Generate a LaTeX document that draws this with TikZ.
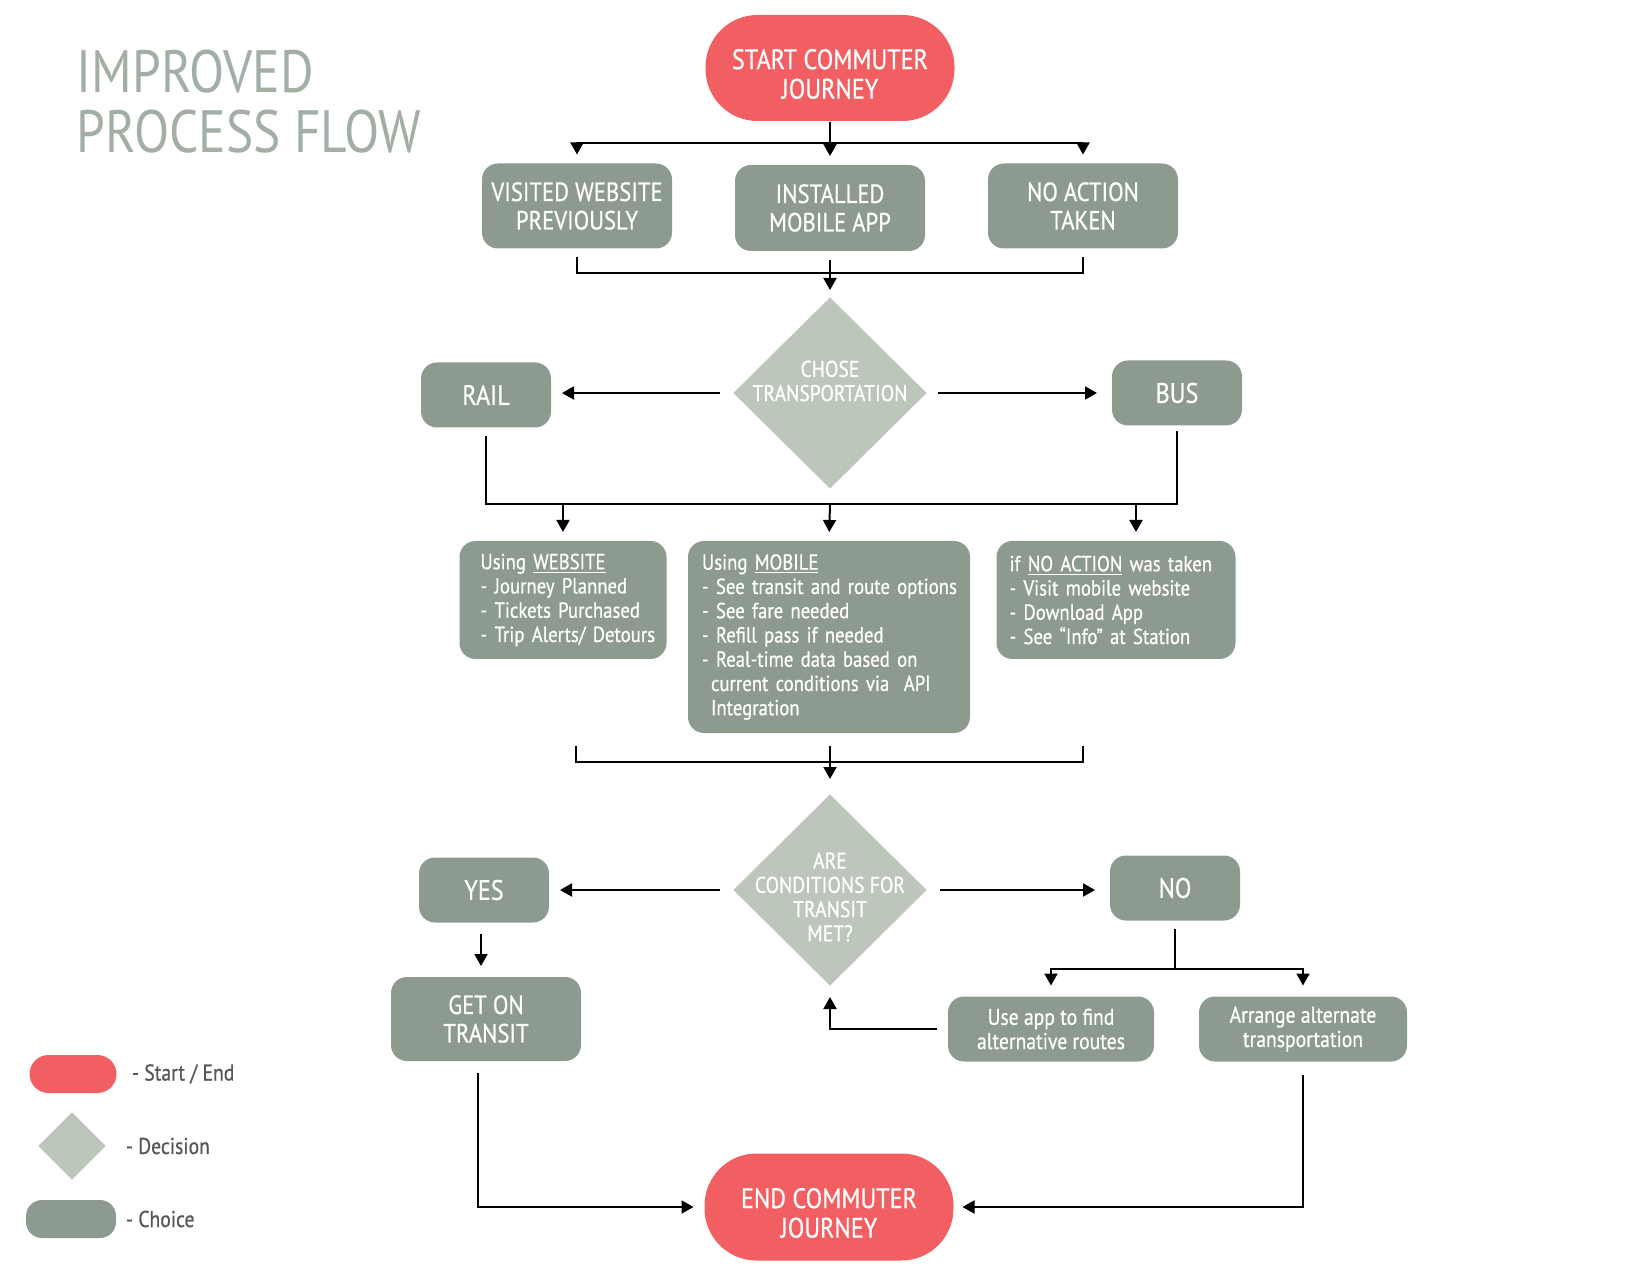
\documentclass[tikz,border=0pt]{standalone}
\usepackage{fontspec}
\setmainfont{PT Sans}[FakeStretch=0.86, FakeBold=0.6]
\newfontfamily\headingfont{PT Sans}[FakeStretch=0.86]
\usetikzlibrary{arrows.meta,shapes.geometric}

\newlength{\pxu}
\setlength{\pxu}{0.2mm}

\definecolor{startred}{HTML}{F25F62}
\definecolor{choicegray}{HTML}{8C9A8F}
\definecolor{decisiongray}{HTML}{BDC6BA}
\definecolor{titlegray}{HTML}{A3AEA5}
\definecolor{legendgray}{HTML}{555555}

\tikzset{
  terminal/.style={fill=startred, rounded corners=52\pxu, inner sep=0pt,
    minimum width=249\pxu, minimum height=106\pxu},
  terminaltext/.style={text=white, align=center, inner sep=0pt, font=\fontsize{16}{16.8}\selectfont},
  choice/.style={fill=choicegray, text=white, rounded corners=16\pxu, inner sep=0pt,
    align=center, font=\fontsize{15}{16.2}\selectfont},
  pick/.style={choice, minimum width=130\pxu, minimum height=65\pxu, font=\fontsize{16}{17}\selectfont},
  detail/.style={choice, align=left, font=\fontsize{12.4}{13.8}\selectfont},
  smallchoice/.style={choice, minimum height=65\pxu, font=\fontsize{13}{13.8}\selectfont},
  decision/.style={diamond, fill=decisiongray, inner sep=0pt, minimum width=194\pxu, minimum height=192\pxu},
  decisiontext/.style={text=white, align=center, inner sep=0pt, font=\fontsize{13}{13.8}\selectfont},
  flow/.style={-{Triangle[width=2.6mm,length=2.4mm]}, shorten >=8\pxu},
  keytext/.style={text=legendgray, anchor=west, inner sep=0pt, font=\fontsize{13}{14}\selectfont},
  heading/.style={text=titlegray, anchor=base west, inner sep=0pt, font=\headingfont\fontsize{34}{34}\selectfont},
}

\begin{document}
\begin{tikzpicture}[x=\pxu, y=-\pxu, line width=2\pxu]
  \useasboundingbox (0,0) rectangle (1651,1275);

  \node[heading] (titleA) at (76,93) {IMPROVED};
  \node[heading] (titleB) at (76,153) {PROCESS FLOW};

  \node[terminal, label={[terminaltext, yshift=-6\pxu]center:START COMMUTER\\JOURNEY}] (start) at (830,68) {};

  \node[choice, minimum width=190\pxu, minimum height=85\pxu] (visited) at (577,206) {VISITED WEBSITE\\PREVIOUSLY};
  \node[choice, minimum width=190\pxu, minimum height=86\pxu] (installed) at (830,208) {INSTALLED\\MOBILE APP};
  \node[choice, minimum width=190\pxu, minimum height=85\pxu] (noaction) at (1083,206) {NO ACTION\\TAKEN};

  \node[decision, label={[decisiontext, yshift=12\pxu]center:CHOSE\\TRANSPORTATION}] (choose) at (830,393) {};
  \node[pick] (rail) at (486,395) {RAIL};
  \node[pick] (bus) at (1177,393) {BUS};

  \node[detail, minimum width=207\pxu, minimum height=118\pxu, text width=165\pxu] (website) at (563,600)
    {\mbox{Using \underline{WEBSITE}}\\\mbox{- Journey Planned}\\\mbox{- Tickets Purchased}\\\mbox{- Trip Alerts/ Detours}};
  \node[detail, minimum width=282\pxu, minimum height=192\pxu, text width=254\pxu] (mobile) at (829,637)
    {\mbox{Using \underline{MOBILE}}\\\mbox{- See transit and route options}\\\mbox{- See fare needed}\\\mbox{- Refill pass if needed}\\\mbox{- Real-time data based on}\\\mbox{\hspace*{9\pxu}current conditions via \ API}\\\mbox{\hspace*{9\pxu}Integration}};
  \node[detail, minimum width=239\pxu, minimum height=118\pxu, text width=213\pxu] (noinfo) at (1116,600)
    {\mbox{if \underline{NO ACTION} was taken}\\\mbox{- Visit mobile website}\\\mbox{- Download App}\\\mbox{- See “Info” at Station}};

  \node[decision, label={[decisiontext, yshift=-7\pxu]center:ARE\\CONDITIONS FOR\\TRANSIT\\MET?}] (conditions) at (830,890) {};
  \node[pick] (yes) at (484,890) {YES};
  \node[pick] (no) at (1175,888) {NO};

  \node[choice, minimum width=190\pxu, minimum height=84\pxu] (geton) at (486,1019) {GET ON\\TRANSIT};
  \node[smallchoice, minimum width=206\pxu] (useapp) at (1051,1029) {Use app to find\\alternative routes};
  \node[smallchoice, minimum width=208\pxu] (arrange) at (1303,1029) {Arrange alternate\\transportation};

  \node[terminal, minimum height=107\pxu, label={[terminaltext, yshift=-6\pxu]center:END COMMUTER\\JOURNEY}] (finish) at (829,1207) {};

  \coordinate (split1) at (830,143);
  \coordinate (join1) at (830,273);
  \coordinate (join2) at (830,504);
  \coordinate (left3) at (576,746);
  \coordinate (mid3) at (830,746);
  \coordinate (right3) at (1083,746);
  \coordinate (join3) at (830,762);
  \coordinate (join4) at (1175,969);

  \draw (start.south) -- (split1);
  \draw[flow] (split1) -| (visited.north);
  \draw[flow] (split1) -- (installed.north);
  \draw[flow] (split1) -| (noaction.north);

  \draw[shorten <=8\pxu, shorten >=8\pxu] (visited.south) |- (join1) -| (noaction.south);
  \draw[shorten <=8\pxu] (installed.south) -- (join1);
  \draw[flow, shorten >=6\pxu] (join1) -- (choose.north);

  \draw[flow, shorten <=12\pxu, shorten >=10\pxu] (choose.west) -- (choose.west -| rail.east);
  \draw[flow, shorten <=10\pxu, shorten >=14\pxu] (choose.east) -- (choose.east -| bus.west);

  \draw[shorten <=8\pxu, shorten >=5\pxu] (rail.south) |- (join2) -| (bus.south);
  \draw[flow] (website.north |- join2) -- (website.north);
  \draw[flow] (join2) -- (mobile.north);
  \draw[flow] ([xshift=20\pxu]noinfo.north |- join2) -- ([xshift=20\pxu]noinfo.north);

  \draw (left3) |- (join3) -| (right3);
  \draw[flow, shorten >=14\pxu] (mid3) -- (conditions.north);

  \draw[flow, shorten <=12\pxu, shorten >=10\pxu] (conditions.west) -- (conditions.west -| yes.east);
  \draw[flow, shorten <=12\pxu, shorten >=14\pxu] (conditions.east) -- (conditions.east -| no.west);

  \draw[flow, shorten <=10\pxu, shorten >=10\pxu] ([xshift=-3\pxu]yes.south) -- ([xshift=-3\pxu]yes.south |- geton.north);

  \draw[shorten <=7\pxu] (no.south) -- (join4);
  \draw[flow, shorten >=10\pxu] (join4) -| (useapp.north);
  \draw[flow, shorten >=10\pxu] (join4) -| (arrange.north);
  \draw[flow, shorten <=10\pxu, shorten >=10\pxu] (useapp.west) -| (conditions.south);

  \draw[flow, shorten <=11\pxu, shorten >=10\pxu] ([xshift=-8\pxu]geton.south) |- (finish.west);
  \draw[flow, shorten <=12\pxu, shorten >=8\pxu] (arrange.south) |- (finish.east);

  \node[terminal, minimum width=87\pxu, minimum height=38\pxu, rounded corners=19\pxu] (keystart) at (73,1074) {};
  \node[decision, minimum width=68\pxu, minimum height=68\pxu] (keydecision) at (72,1146) {};
  \node[choice, minimum width=90\pxu, minimum height=38\pxu, rounded corners=16\pxu] (keychoice) at (71,1219) {};
  \node[keytext] (keystartlabel) at (131,1074) {- Start / End};
  \node[keytext] (keydecisionlabel) at (125,1146) {- Decision};
  \node[keytext] (keychoicelabel) at (125,1219) {- Choice};
\end{tikzpicture}
\end{document}
